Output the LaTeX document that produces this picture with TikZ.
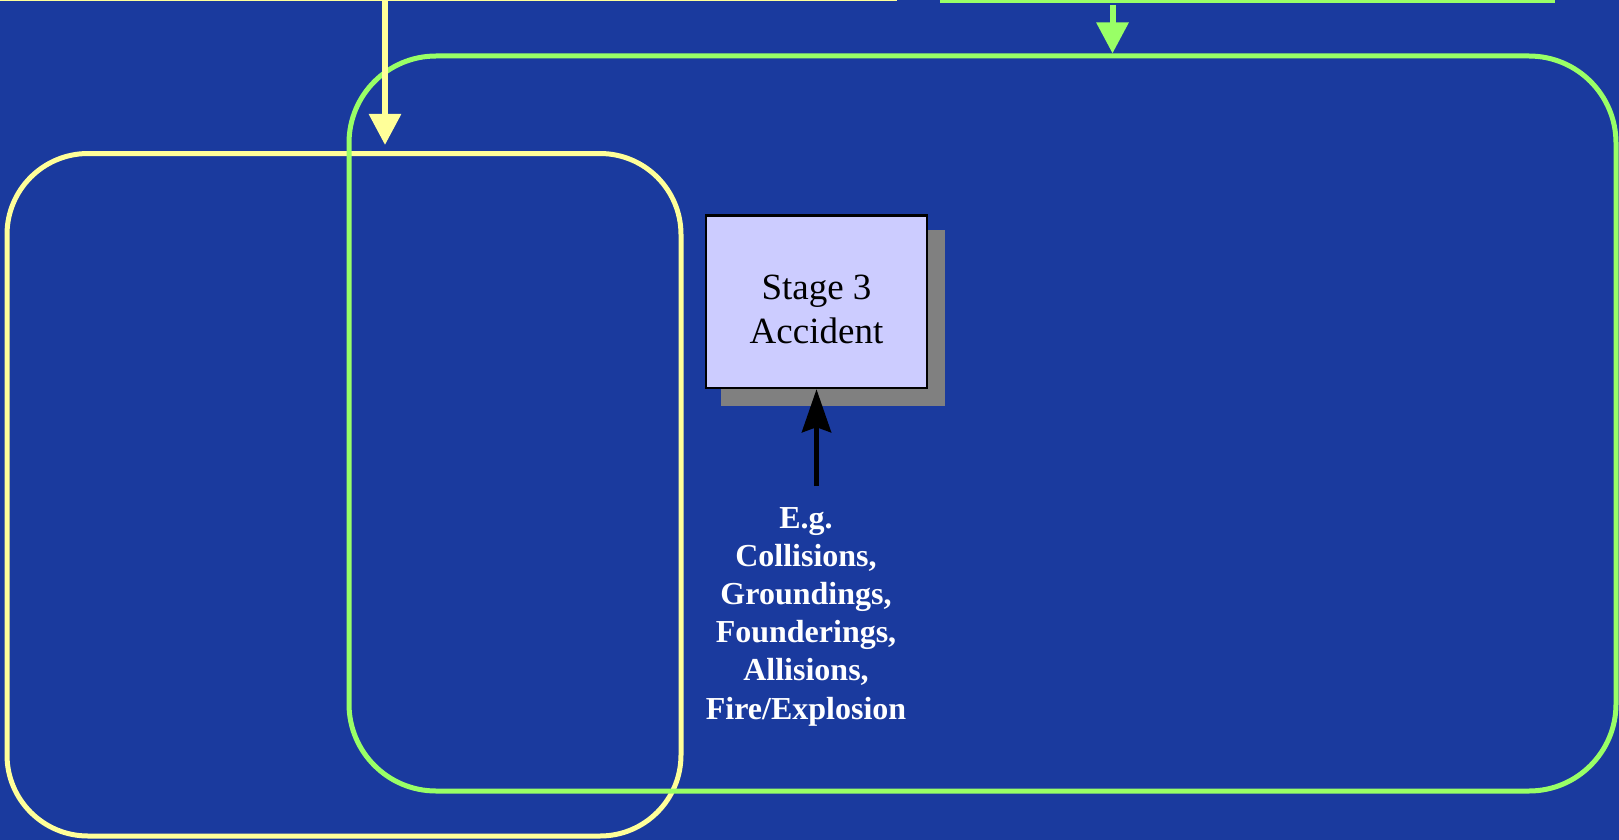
\documentclass[tikz,border=0pt]{standalone}
\usepackage{fontspec}
\setmainfont{Liberation Serif}
\usetikzlibrary{arrows.meta,shadows}
\definecolor{slideblue}{RGB}{26,58,158}
\definecolor{paleyellow}{RGB}{255,255,153}
\definecolor{palegreen}{RGB}{153,255,102}
\definecolor{lavender}{RGB}{204,204,255}
\definecolor{shadowgray}{RGB}{128,128,128}
\tikzset{
zone/.style={draw=#1, line width=5pt, rounded corners=85pt, inner sep=0pt},
stagebox/.style={draw=black, line width=2.4pt, fill=lavender, inner sep=0pt,
 minimum width=221pt, minimum height=172.5pt,
 drop shadow={shadow xshift=16.5pt, shadow yshift=-16pt, shadow scale=1.015, fill=shadowgray, opacity=1}},
feed/.style={line width=6pt, -{Triangle[width=31pt,length=31pt]}},
}
\begin{document}
\begin{tikzpicture}[x=1pt,y=-1pt]
\useasboundingbox (0,0) rectangle (1619,840);
\fill[slideblue] (0,0) rectangle (1619,840);
\draw[paleyellow, line width=3pt] (0,0) coordinate (ytopl) -- (897,0) coordinate (ytopr);
\draw[palegreen, line width=6pt] (940,0) coordinate (gtopl) -- (1555,0) coordinate (gtopr);
\node[zone=paleyellow, rounded corners=81pt, minimum width=674pt, minimum height=682.5pt] (leftzone) at (344,494.75) {};
\node[zone=palegreen, rounded corners=87pt, minimum width=1267pt, minimum height=735pt] (rightzone) at (982.5,423.5) {};
\node[stagebox] (stage) at (816.5,301.75) {};
\node[font=\fontsize{37}{44}\selectfont, align=center, inner sep=0pt] (stagetext)
 at ([yshift=-7.75pt]stage.center) {Stage 3\\Accident};
\node[font=\bfseries\fontsize{32}{38.2}\selectfont, text=white, align=center, inner sep=0pt, anchor=north]
 (causes) at (806,507) {E.g.\\Collisions,\\Groundings,\\Founderings,\\Allisions,\\Fire/Explosion};
\coordinate (yfeed) at (385,0);
\coordinate (gfeed) at (1112.5,5);
\coordinate (cause) at (816.5,486);
\draw[feed, paleyellow, shorten >=6pt] (yfeed) -- (yfeed |- leftzone.north);
\draw[feed, palegreen] (gfeed) -- (gfeed |- rightzone.north);
\draw[line width=5.2pt, -{Stealth[width=29pt,length=43pt,inset=5pt]}] (cause) -- (stage.south);
\end{tikzpicture}
\end{document}
